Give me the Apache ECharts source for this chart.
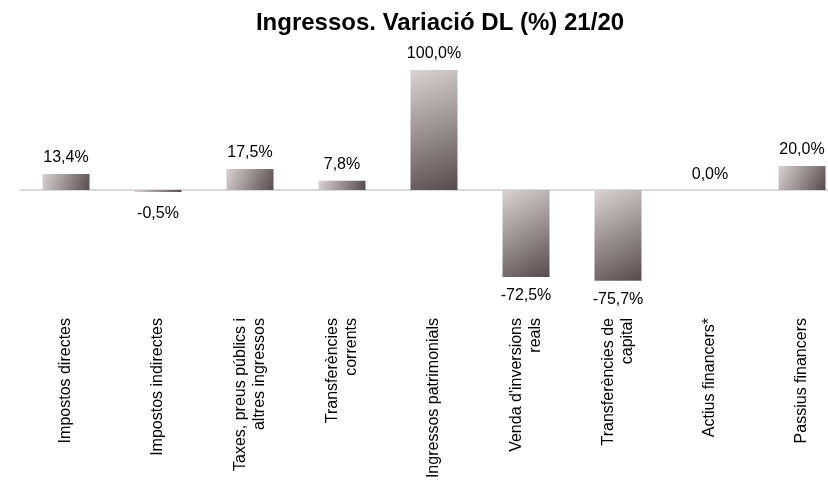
<!DOCTYPE html>
<html>
<head>
<meta charset="utf-8">
<script src="https://cdn.jsdelivr.net/npm/echarts@6/dist/echarts.min.js"></script>
<style>
    html, body { margin: 0; padding: 0; background: #fff; }
    #chart-main { width: 828px; height: 482px; }
</style>
</head>
<body>
<div id="chart-main"></div>
<script>
    'use strict';

    var title = 'Ingressos. Variació DL (%) 21/20';
    var categories = [
        'Impostos directes',
        'Impostos indirectes',
        'Taxes, preus públics i\naltres ingressos',
        'Transferències\ncorrents',
        'Ingressos patrimonials',
        "Venda d'inversions\nreals",
        'Transferències de\ncapital',
        'Actius financers*',
        'Passius financers'
    ];
    var values = [13.4, -0.5, 17.5, 7.8, 100.0, -72.5, -75.7, 0.0, 20.0];

    var font = 'Arial, "Liberation Sans", sans-serif';

    var barColor = new echarts.graphic.LinearGradient(0, 0, 1, 1, [
        {offset: 0, color: '#d9d3d4'},
        {offset: 1, color: '#574c4d'}
    ]);

    var option = {
        backgroundColor: '#fff',
        animation: false,
        title: {
            text: title,
            left: 435,
            textAlign: 'center',
            top: 6,
            textStyle: {fontFamily: font, fontSize: 24, fontWeight: 'bold', color: '#000'}
        },
        grid: {left: 20, top: 70, width: 828, height: 240, outerBoundsMode: 'none'},
        xAxis: {
            type: 'category',
            data: categories,
            axisLine: {show: false},
            axisTick: {show: false},
            axisLabel: {
                rotate: 90,
                margin: 8,
                interval: 0,
                fontFamily: font,
                fontSize: 16,
                lineHeight: 19,
                color: '#000',
                align: 'right',
                verticalAlign: 'middle'
            }
        },
        yAxis: {
            type: 'value',
            min: -100,
            max: 100,
            show: false
        },
        series: [{
            type: 'bar',
            barWidth: 47,
            barMinHeight: 2,
            z: 3,
            itemStyle: {color: barColor},
            label: {
                show: true,
                position: 'top',
                distance: 8,
                fontFamily: font,
                fontSize: 16,
                color: '#000',
                formatter: function (p) {
                    return p.value.toFixed(1).replace('.', ',') + '%';
                }
            },
            markLine: {
                silent: true,
                symbol: 'none',
                z: 1,
                label: {show: false},
                lineStyle: {color: '#d9d9d9', width: 2, type: 'solid'},
                data: [{yAxis: 0}]
            }
        }]
    };

    // negative values get their label below the bar, zero gets no bar
    option.series[0].data = values.map(function (v) {
        var item = {
            value: v,
            label: v < 0 ? {position: 'bottom', distance: v > -1 ? 14 : 11} : {position: 'top'}
        };
        if (v === 0) {
            item.itemStyle = {color: 'rgba(0,0,0,0)'};
            item.label.distance = 5;
        }
        return item;
    });

    var myChart = echarts.init(document.getElementById('chart-main'));
    myChart.setOption(option);
</script>
</body>
</html>
